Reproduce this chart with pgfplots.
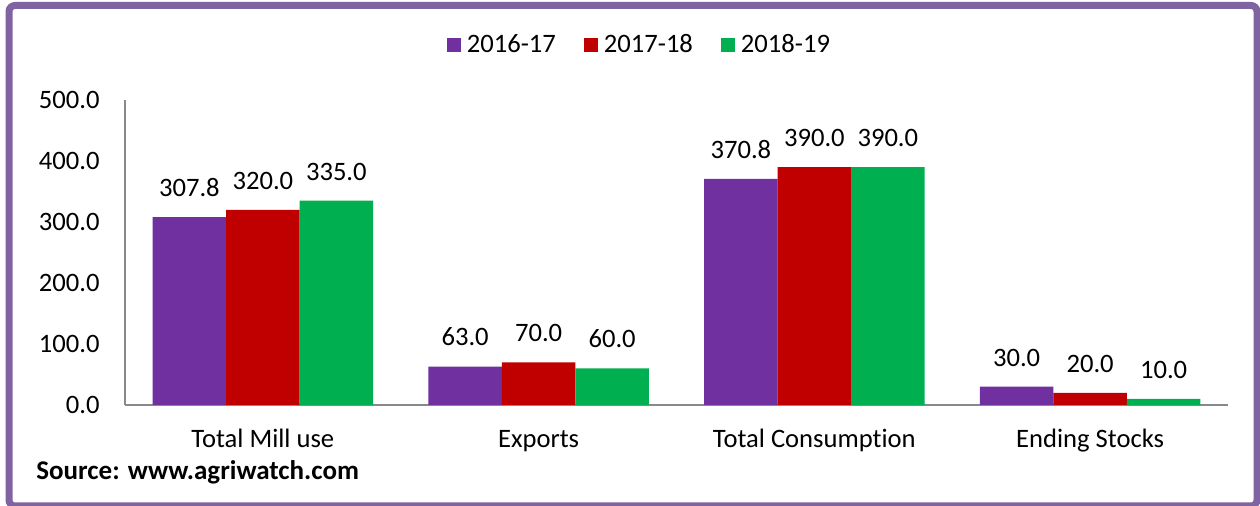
\documentclass[border=0pt]{standalone}
\usepackage{pgfplots}
\pgfplotsset{compat=1.18}
\usepackage{fontspec}
\setmainfont{Carlito}[Ligatures={NoCommon}]
\definecolor{cpurple}{HTML}{7030A0}
\definecolor{cred}{HTML}{C00000}
\definecolor{cgreen}{HTML}{00B050}
\definecolor{frame}{HTML}{8064A2}
\definecolor{axgray}{HTML}{898989}
\newcommand\cf{\fontsize{13.3}{15}\selectfont}
\begin{document}
\begin{tikzpicture}[x=0.5pt,y=0.5pt]
\useasboundingbox (0,0) rectangle (1260,506);
\fill[white] (0,0) rectangle (1260,506);
\draw[frame, line width=3.5pt, rounded corners=3pt] (9,0) rectangle (1257,500.5);
\begin{axis}[
  at={(62.5pt,50.5pt)}, anchor=south west,
  scale only axis, width=551.5pt, height=152.5pt,
  xmin=-0.5, xmax=3.5, ymin=0, ymax=500,
  xtick={0,1,2,3},
  xticklabels={Total Mill use,Exports,Total Consumption,Ending Stocks},
  ytick={0,100,200,300,400,500},
  axis x line*=bottom, axis y line*=left,
  axis line style={draw=axgray, line width=1pt},
  tick style={draw=none}, major tick length=0pt,
  /pgf/number format/assume math mode=true,
  yticklabel style={font=\cf, anchor=east, inner sep=0pt, xshift=-12.5pt,
    /pgf/number format/.cd, fixed, fixed zerofill, precision=1},
  xticklabel style={font=\cf, anchor=base, inner sep=0pt, yshift=-21.5pt},
  ybar, bar width=0.2665,
  point meta=y,
  nodes near coords,
  nodes near coords style={font=\cf, anchor=south, inner sep=0pt, yshift=10pt, text=black,
    /pgf/number format/.cd, fixed, fixed zerofill, precision=1, assume math mode=true},
  legend columns=3,
  legend style={at={(0.4655,1.1803)}, anchor=center, draw=none, fill=none,
    font=\cf, inner sep=0pt,
    nodes={inner sep=0pt},
    /tikz/every odd column/.append style={column sep=3pt},
    /tikz/every even column/.append style={column sep=14pt}},
  legend image code/.code={\fill[#1] (0pt,-3.5pt) rectangle (7pt,3.5pt);},
]
\addplot[fill=cpurple, draw=none, bar shift=-0.2665] coordinates {(0,307.8) (1,63.0) (2,370.8) (3,30.0)};
\addplot[fill=cred, draw=none, bar shift=0] coordinates {(0,320.0) (1,70.0) (2,390.0) (3,20.0)};
\addplot[fill=cgreen, draw=none, bar shift=0.2665] coordinates {(0,335.0) (1,60.0) (2,390.0) (3,10.0)};
\legend{2016-17,2017-18,2018-19}
\end{axis}
\node[anchor=base west, inner sep=0pt, font=\fontsize{13.5}{15}\selectfont\bfseries] at (36,26) {Source: www.agriwatch.com};
\end{tikzpicture}
\end{document}
